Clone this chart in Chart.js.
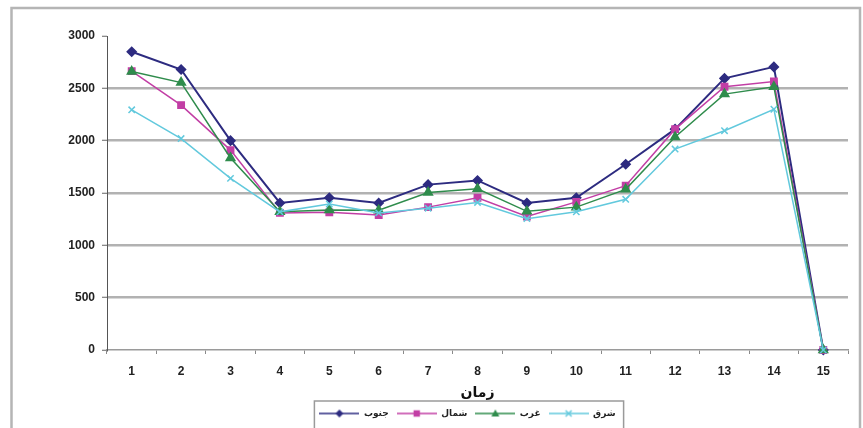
<!DOCTYPE html>
<html>
<head>
<meta charset="utf-8">
<script src="https://cdn.jsdelivr.net/npm/chart.js@4.4.1/dist/chart.umd.min.js"></script>
<style>
  html, body { margin: 0; padding: 0; background: #ffffff; }
  canvas { display: block; }
</style>
</head>
<body>
<canvas id="chart" width="863" height="428"></canvas>
<script>
// Time steps on the horizontal axis
const categories = ['1', '2', '3', '4', '5', '6', '7', '8', '9', '10', '11', '12', '13', '14', '15'];

// Values per direction
const south = [2850, 2680, 2000, 1405, 1455, 1405, 1580, 1620, 1405, 1455, 1775, 2110, 2595, 2705, 0]; // جنوب
const north = [2665, 2340, 1910, 1310, 1315, 1290, 1365, 1455, 1275, 1415, 1570, 2110, 2515, 2565, 0]; // شمال
const west  = [2660, 2555, 1835, 1320, 1338, 1335, 1505, 1540, 1325, 1365, 1535, 2035, 2445, 2515, 0]; // غرب
const east  = [2295, 2020, 1640, 1320, 1395, 1310, 1355, 1410, 1255, 1320, 1440, 1920, 2095, 2300, 0]; // شرق

const seriesNames = ['جنوب', 'شمال', 'غرب', 'شرق'];
const yTicks = [0, 500, 1000, 1500, 2000, 2500, 3000];
const axisTitle = 'زمان';

const FONT = "Arial, 'Liberation Sans', 'DejaVu Sans', sans-serif";

const styles = [
  { color: '#2d2b80', point: 'rectRot',  radius: 4.5, line: 2.0 },
  { color: '#c23ea5', point: 'rect',     radius: 4.5, line: 1.5 },
  { color: '#2f8c4c', point: 'triangle', radius: 5.0, line: 1.5 },
  { color: '#62c9dd', point: 'crossRot', radius: 4.5, line: 1.5 }
];

// Small line-with-marker swatch used in the legend
function legendSwatch(s) {
  const cv = document.createElement('canvas');
  cv.width = 40; cv.height = 12;
  const c = cv.getContext('2d');
  c.strokeStyle = s.color;
  c.fillStyle = s.color;
  c.lineWidth = 1.5;
  c.beginPath(); c.moveTo(0, 6); c.lineTo(40, 6); c.stroke();
  const x = 20, y = 6, r = 4;
  c.beginPath();
  if (s.point === 'rectRot') {
    c.moveTo(x, y - r); c.lineTo(x + r, y); c.lineTo(x, y + r); c.lineTo(x - r, y); c.closePath(); c.fill();
  } else if (s.point === 'rect') {
    c.rect(x - 3.2, y - 3.2, 6.4, 6.4); c.fill();
  } else if (s.point === 'triangle') {
    c.moveTo(x, y - r); c.lineTo(x + r, y + 3); c.lineTo(x - r, y + 3); c.closePath(); c.fill();
  } else {
    c.moveTo(x - 3, y - 3); c.lineTo(x + 3, y + 3);
    c.moveTo(x + 3, y - 3); c.lineTo(x - 3, y + 3); c.stroke();
  }
  return cv;
}

const seriesValues = [south, north, west, east];
const datasets = seriesValues.map((vals, i) => ({
  label: seriesNames[i],
  data: vals,
  borderColor: styles[i].color,
  backgroundColor: styles[i].color,
  borderWidth: styles[i].line,
  pointStyle: styles[i].point,
  pointRadius: styles[i].radius,
  pointBorderWidth: 1.5,
  pointBackgroundColor: styles[i].color,
  pointBorderColor: styles[i].color,
  tension: 0,
  clip: false,
  order: 3 - i
}));

// Outer chart frame and a border round the legend
const framePlugin = {
  id: 'frame',
  afterLayout(chart) {
    // nudge the legend block a little to the left of the plot centre
    const lg = chart.legend;
    if (lg) { lg.left -= 10; lg.right -= 10; }
  },
  beforeDraw(chart) {
    const ctx = chart.ctx;
    ctx.save();
    ctx.fillStyle = '#ffffff';
    ctx.fillRect(0, 0, chart.width, chart.height);
    ctx.strokeStyle = '#b5b5b5';
    ctx.lineWidth = 2.5;
    ctx.strokeRect(11.5, 8, 848.5, 440);
    ctx.restore();
  },
  afterDraw(chart) {
    const lg = chart.legend;
    if (!lg || !lg.legendHitBoxes || !lg.legendHitBoxes.length) return;
    const boxes = lg.legendHitBoxes;
    const left = Math.min(...boxes.map(b => b.left)) - 5;
    const right = Math.max(...boxes.map(b => b.left + b.width)) + 8;
    const ctx = chart.ctx;
    ctx.save();
    ctx.strokeStyle = '#9a9a9a';
    ctx.lineWidth = 1.5;
    ctx.strokeRect(left, 401, right - left, 40);
    ctx.restore();
  }
};

new Chart(document.getElementById('chart'), {
  type: 'line',
  data: { labels: categories, datasets },
  plugins: [framePlugin],
  options: {
    responsive: false,
    animation: false,
    devicePixelRatio: 1,
    layout: { padding: { top: 36, right: 15, left: 0, bottom: 0 } },
    plugins: {
      tooltip: { enabled: false },
      legend: {
        position: 'bottom',
        fullSize: false,
        labels: {
          usePointStyle: true,
          pointStyleWidth: 40,
          padding: 8,
          color: '#222222',
          font: { family: FONT, size: 9, weight: 'bold' },
          generateLabels(chart) {
            return chart.data.datasets.map((ds, i) => ({
              text: ds.label,
              pointStyle: legendSwatch(styles[i]),
              fillStyle: ds.borderColor,
              strokeStyle: ds.borderColor,
              lineWidth: 0,
              fontColor: '#222222',
              hidden: false,
              datasetIndex: i
            }));
          }
        }
      }
    },
    scales: {
      x: {
        offset: true,
        grid: {
          offset: true,
          drawOnChartArea: false,
          drawTicks: true,
          tickLength: 4,
          tickColor: '#8a8a8a',
          tickWidth: 1
        },
        border: { display: true, color: '#9a9a9a', width: 1.5 },
        ticks: {
          padding: 10,
          color: '#222222',
          maxRotation: 0,
          autoSkip: false,
          font: { family: FONT, size: 12, weight: 'bold' }
        },
        title: {
          display: true,
          text: axisTitle,
          color: '#111111',
          padding: { top: 0, bottom: -1 },
          font: { family: FONT, size: 14, weight: 'bold' }
        },
        afterFit(scale) { scale.height = 51; }
      },
      y: {
        min: 0,
        max: 3000,
        afterBuildTicks(scale) { scale.ticks = yTicks.map(v => ({ value: v })); },
        grid: {
          color: ctx => (ctx.tick && (ctx.tick.value === 0 || ctx.tick.value === 3000)) ? 'rgba(0,0,0,0)' : '#b2b2b2',
          lineWidth: 2.5,
          drawTicks: true,
          tickLength: 5,
          tickColor: '#666666',
          tickWidth: 1
        },
        border: { display: true, color: '#555555', width: 1 },
        ticks: {
          padding: 7,
          color: '#222222',
          font: { family: FONT, size: 12, weight: 'bold' },
          callback: v => String(v)
        },
        afterFit(scale) { scale.width = 107; }
      }
    }
  }
});
</script>
</body>
</html>
